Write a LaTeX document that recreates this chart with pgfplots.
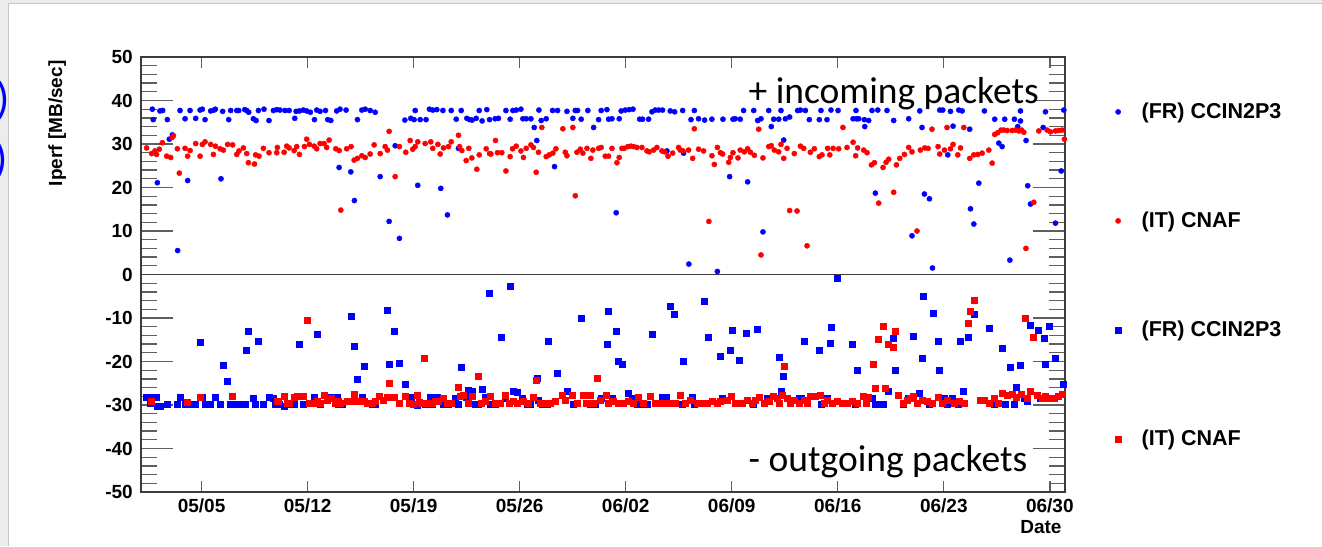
\documentclass[border=0pt]{standalone}
\usepackage{pgfplots}
\pgfplotsset{compat=1.18}
\usepackage{fontspec}
\setmainfont{Liberation Sans}
\newfontfamily\calibri{Carlito}
\definecolor{rootblue}{RGB}{0,0,255}
\definecolor{rootred}{RGB}{255,0,0}
\definecolor{framegray}{RGB}{60,60,60}
\definecolor{tickgray}{RGB}{95,95,95}
\definecolor{stripgray}{RGB}{236,236,236}
\definecolor{edgegray}{RGB}{200,200,200}

\newcommand{\lblfont}{\fontsize{19}{19}\selectfont\bfseries}
\newcommand{\legfont}{\fontsize{21.5}{21.5}\selectfont\bfseries}

\pgfplotsset{
  legimg/.style={legend image code/.code={\draw[##1] plot coordinates {(0pt,0pt)};}},
  incoming/.style={only marks, mark=*, mark size=2.6pt, mark options={draw=none, fill=#1}, color=#1, legimg},
  outgoing/.style={only marks, mark=square*, mark size=3pt, mark options={draw=none, fill=#1}, color=#1, legimg},
  rootframe/.style={
    at={(141pt,54pt)}, anchor=south west,
    scale only axis, width=924pt, height=435pt,
    xmin=0, xmax=61, ymin=-50, ymax=50,
    axis line style={framegray, line width=1.3pt},
    tick align=inside,
    every tick/.style={tickgray, line width=1.3pt},
  },
}

\begin{document}
\begin{tikzpicture}[x=1pt,y=1pt]
\path[use as bounding box, fill=white] (0,0) rectangle (1322,546);
% window edges
\fill[stripgray] (0,0) rectangle (8.5,546);
\fill[stripgray] (0,542.5) rectangle (1322,546);
\draw[edgegray, line width=1pt] (8.5,0) -- (8.5,542.5) -- (1322,542.5);
\node[text=rootblue, font=\calibri\fontsize{44}{44}\selectfont, anchor=east, inner sep=0pt] at (10,446) {)};
\node[text=rootblue, font=\calibri\fontsize{44}{44}\selectfont, anchor=east, inner sep=0pt] at (8,386) {)};

% y axis: ticks and title
\begin{axis}[rootframe,
  xtick=\empty,
  ytick={-50,-40,...,50},
  minor y tick num=4,
  major tick length=32pt, minor tick length=16pt,
  /pgf/number format/assume math mode=true,
  yticklabel style={font=\lblfont, inner sep=0pt, xshift=-8pt},
  ylabel={Iperf [MB/sec]},
  ylabel style={font=\lblfont, at={(rel axis cs:-0.0855,1)}, anchor=base east},
]
\draw[framegray, line width=1.3pt] (rel axis cs:0,0.5) -- (rel axis cs:1,0.5);
\end{axis}

% data
\begin{axis}[rootframe,
  clip=false,
  ytick=\empty,
  xtick={4,11,...,60},
  xticklabels={05/05,05/12,05/19,05/26,06/02,06/09,06/16,06/23,06/30},
  major tick length=11pt,
  xticklabel style={font=\lblfont, inner sep=0pt, yshift=-7pt},
  xlabel={Date},
  xlabel style={font=\lblfont, at={(rel axis cs:1,-0.0943)}, anchor=base east},
  legend style={draw=none, fill=none, at={(rel axis cs:1.0508,0.8984)}, anchor=north west,
    font=\legfont, row sep=91.9pt, column sep=20.5pt, nodes={inner sep=0pt}},
  legend cell align=left,
]
% incoming, FR CCIN2P3
\addplot[incoming=rootblue] coordinates {
(0.75,38.0) (0.81,35.6) (1.08,21.1) (1.25,37.6) (1.43,37.7) (1.74,35.6) (1.87,31.1) (2.07,32.1)
(2.42,5.5) (2.58,37.7) (2.91,35.8) (3.08,21.6) (3.24,37.7) (3.61,35.9) (3.90,37.8) (4.05,38.0)
(4.23,35.6) (4.60,37.6) (4.82,37.8) (4.91,38.0) (5.28,22.0) (5.39,37.5) (5.79,35.6) (5.92,37.7)
(6.32,37.7) (6.45,37.7) (6.85,37.9) (6.98,37.7) (7.11,37.3) (7.42,35.8) (7.60,35.4) (7.75,37.7)
(8.12,38.0) (8.45,35.4) (8.74,37.7) (8.96,37.9) (9.18,37.8) (9.51,37.7) (9.78,37.7) (10.15,35.9)
(10.24,37.5) (10.46,37.6) (10.72,37.8) (10.94,37.6) (11.18,37.3) (11.45,35.6) (11.60,37.8) (11.82,37.5)
(12.18,37.7) (12.33,35.6) (12.53,35.4) (12.92,37.6) (13.08,24.6) (13.14,38.0) (13.54,37.8) (13.85,23.6)
(14.09,17.0) (14.29,35.6) (14.58,37.8) (14.80,38.0) (15.13,37.7) (15.46,37.3) (15.79,22.5) (16.38,12.2)
(16.78,29.6) (17.06,8.3) (17.42,35.5) (17.81,35.9) (18.03,35.6) (18.10,37.7) (18.27,20.5) (18.43,35.6)
(18.82,35.6) (19.04,38.0) (19.26,37.8) (19.53,37.9) (19.79,19.8) (19.93,37.7) (20.23,13.7) (20.48,37.7)
(20.81,35.7) (20.96,29.0) (21.14,37.7) (21.51,35.9) (21.69,35.6) (21.86,35.5) (22.13,35.9) (22.33,37.7)
(22.52,35.3) (22.83,37.9) (23.01,35.6) (23.38,35.8) (23.60,35.9) (24.09,37.7) (24.37,35.7) (24.55,37.7)
(24.77,37.8) (25.08,38.0) (25.21,35.8) (25.43,35.8) (25.74,35.8) (25.96,33.8) (26.13,30.8) (26.27,37.8)
(26.42,35.4) (26.75,35.8) (27.17,37.7) (27.30,24.8) (27.50,37.7) (28.12,37.5) (28.51,35.9) (28.67,37.7)
(28.82,37.7) (29.06,35.7) (29.50,37.7) (29.88,33.8) (30.21,35.6) (30.38,37.7) (30.76,37.9) (30.87,35.7)
(31.09,35.8) (31.37,14.2) (31.57,35.8) (31.70,37.6) (31.97,37.8) (32.23,37.9) (32.48,38.0) (32.92,35.7)
(33.11,35.7) (33.51,35.7) (33.73,37.4) (33.95,37.8) (34.17,37.8) (34.43,37.8) (34.72,28.4) (34.94,37.6)
(35.23,37.4) (35.76,37.7) (35.82,27.9) (36.17,2.4) (36.31,35.6) (36.53,37.7) (36.81,35.8) (37.21,35.5)
(37.69,35.7) (38.05,0.7) (38.42,35.7) (38.86,22.5) (39.08,35.7) (39.23,35.8) (39.56,35.7) (39.78,37.7)
(40.05,21.3) (40.45,37.7) (40.71,35.4) (40.93,35.8) (41.06,9.8) (41.44,37.7) (41.61,34.0) (41.77,35.7)
(42.10,35.7) (42.25,37.7) (42.43,30.9) (42.54,35.8) (42.82,36.2) (43.35,37.7) (43.53,37.8) (43.86,37.7)
(44.12,35.6) (44.78,35.6) (44.89,37.7) (45.29,35.6) (45.55,37.8) (46.02,37.7) (47.01,35.8) (47.20,37.7)
(47.23,35.8) (47.38,35.8) (47.75,35.6) (47.78,34.0) (48.04,35.4) (48.26,37.7) (48.48,18.7) (48.64,37.8)
(49.25,37.7) (49.69,35.4) (50.68,35.8) (50.90,8.9) (51.41,37.6) (51.56,33.8) (51.72,18.5) (52.05,17.4)
(52.25,1.5) (52.73,37.8) (52.93,37.8) (53.26,27.5) (53.44,37.5) (53.61,34.1) (53.99,37.8) (54.21,37.6)
(54.71,33.4) (54.76,15.1) (54.98,11.6) (55.31,21.0) (55.68,37.6) (56.36,35.7) (56.63,30.2) (56.85,29.4)
(57.02,35.7) (57.36,3.3) (57.66,35.7) (57.88,34.0) (58.06,37.6) (58.06,35.3) (58.43,30.8) (58.54,20.4)
(58.72,16.2) (59.56,33.8) (59.71,37.4) (60.37,11.8) (60.75,23.8) (60.92,37.8)
};
\addlegendentry{(FR) CCIN2P3}
% incoming, IT CNAF
\addplot[incoming=rootred] coordinates {
(0.37,29.1) (0.70,27.8) (0.92,28.4) (1.03,27.6) (1.21,28.8) (1.41,30.3) (1.70,27.2) (1.96,26.9)
(2.05,31.5) (2.14,31.9) (2.40,28.9) (2.53,23.3) (2.91,29.0) (3.08,27.2) (3.24,28.5) (3.61,30.1)
(3.90,27.2) (4.05,29.9) (4.23,30.5) (4.60,29.9) (4.78,27.6) (4.91,29.5) (5.22,28.9) (5.44,28.6)
(5.72,29.9) (6.05,29.8) (6.32,27.6) (6.47,28.4) (6.76,29.1) (6.98,27.8) (7.09,25.7) (7.49,25.4)
(7.57,27.5) (7.79,27.2) (8.08,29.0) (8.45,28.0) (8.96,28.0) (9.00,29.2) (9.45,28.1) (9.62,29.5)
(9.78,29.1) (10.11,28.5) (10.28,29.4) (10.46,27.6) (10.79,29.4) (10.94,31.1) (11.12,29.9) (11.43,29.5)
(11.60,28.9) (11.82,30.1) (12.09,30.1) (12.26,29.2) (12.42,30.9) (12.86,28.9) (13.08,28.5) (13.19,14.8)
(13.58,28.9) (13.87,29.4) (14.07,26.3) (14.29,26.7) (14.58,27.3) (14.80,26.9) (15.13,27.7) (15.39,29.8)
(15.79,27.8) (16.12,29.4) (16.27,28.6) (16.38,32.9) (16.78,22.5) (17.06,29.4) (17.48,28.1) (17.77,30.8)
(17.94,28.8) (18.10,29.4) (18.27,30.5) (18.76,30.1) (19.13,30.5) (19.26,29.0) (19.60,29.9) (19.75,27.7)
(19.97,29.1) (20.30,29.4) (20.48,30.5) (20.96,32.0) (21.03,29.4) (21.18,28.5) (21.47,26.2) (21.64,29.0)
(21.84,26.8) (22.17,24.2) (22.33,27.5) (22.79,28.9) (23.01,27.8) (23.10,27.7) (23.40,30.8) (23.53,28.0)
(23.82,28.0) (24.09,23.8) (24.37,27.1) (24.53,28.9) (24.77,29.5) (25.08,28.4) (25.25,26.9) (25.43,29.0)
(25.74,29.8) (25.91,29.2) (26.09,23.5) (26.24,28.1) (26.46,33.8) (26.75,27.1) (26.95,27.5) (27.19,27.9)
(27.39,28.9) (27.85,33.5) (28.01,28.1) (28.12,27.3) (28.51,33.8) (28.67,18.1) (28.78,28.1) (29.00,28.8)
(29.17,27.9) (29.44,29.0) (29.70,26.7) (29.83,28.6) (30.21,29.0) (30.38,29.2) (30.65,27.2) (30.87,27.2)
(31.09,29.0) (31.42,25.7) (31.57,26.9) (31.75,29.0) (31.90,29.0) (32.14,29.4) (32.34,29.5) (32.52,29.4)
(32.74,29.2) (33.07,29.2) (33.40,28.4) (33.55,28.2) (33.84,28.6) (34.06,29.2) (34.39,28.4) (34.57,28.2)
(34.79,27.2) (35.10,27.9) (35.49,29.2) (35.60,28.6) (35.78,28.4) (36.15,28.6) (36.42,26.7) (36.53,33.5)
(36.81,28.8) (37.14,28.4) (37.49,12.2) (37.69,27.3) (37.85,25.3) (38.05,29.2) (38.25,28.0) (38.40,27.7)
(38.80,25.8) (38.91,26.9) (39.08,28.0) (39.41,26.8) (39.56,28.6) (39.83,28.2) (40.05,28.9) (40.23,28.1)
(40.49,27.4) (40.78,33.4) (40.93,4.5) (41.06,26.8) (41.44,29.4) (41.61,29.6) (41.81,28.6) (42.10,28.2)
(42.25,29.9) (42.43,26.7) (42.65,29.0) (42.82,14.7) (43.13,27.8) (43.31,14.6) (43.53,29.5) (43.75,29.0)
(43.97,6.6) (44.19,28.1) (44.45,28.9) (44.78,27.1) (44.96,27.5) (45.33,29.0) (45.47,27.5) (45.69,29.0)
(46.06,28.9) (46.34,33.8) (46.61,29.2) (47.01,30.4) (47.18,27.3) (47.31,29.1) (47.71,28.6) (47.93,28.0)
(48.22,25.2) (48.42,25.7) (48.70,16.4) (48.99,24.6) (49.19,25.8) (49.36,26.5) (49.69,18.9) (49.87,25.2)
(50.09,26.7) (50.40,27.6) (50.68,29.2) (50.90,28.2) (51.23,10.0) (51.45,28.6) (51.74,29.1) (51.96,29.0)
(52.22,33.4) (52.62,29.4) (52.73,27.7) (53.04,28.6) (53.21,33.8) (53.44,28.9) (53.61,29.9) (53.92,27.5)
(54.10,29.1) (54.32,33.8) (54.71,26.7) (54.98,27.5) (55.24,27.6) (55.53,27.9) (55.97,28.6) (56.19,25.6)
(56.36,32.2) (56.56,32.6) (56.78,33.2) (56.96,33.2) (57.18,33.1) (57.51,33.1) (57.73,33.2) (57.95,33.0)
(58.13,33.2) (58.28,32.7) (58.42,6.0) (58.94,16.6) (59.27,33.0) (59.82,33.2) (60.04,32.8) (60.37,33.0)
(60.59,33.1) (60.81,33.2) (60.96,31.1)
};
\addlegendentry{(IT) CNAF}
% outgoing, FR CCIN2P3
\addplot[outgoing=rootblue] coordinates {
(0.33,-28.2) (0.59,-29.5) (0.81,-28.2) (0.99,-28.1) (1.08,-30.2) (1.25,-30.2) (1.70,-29.9) (2.40,-29.8)
(2.58,-28.1) (2.91,-29.9) (3.24,-29.9) (3.57,-29.9) (3.90,-15.6) (4.05,-28.3) (4.23,-29.8) (4.60,-29.8)
(4.89,-28.3) (5.22,-29.9) (5.44,-20.8) (5.72,-24.5) (5.92,-29.9) (6.16,-29.9) (6.47,-29.9) (6.87,-29.9)
(6.94,-17.4) (7.05,-13.1) (7.42,-28.4) (7.57,-29.9) (7.75,-15.4) (8.08,-29.9) (8.45,-28.1) (8.70,-28.4)
(8.85,-29.9) (9.14,-29.9) (9.45,-30.2) (9.78,-29.9) (10.11,-29.9) (10.44,-16.0) (10.72,-29.9) (11.43,-28.1)
(11.60,-13.8) (11.82,-29.9) (12.48,-28.2) (12.92,-28.1) (13.03,-29.9) (13.25,-29.9) (13.85,-9.5) (14.07,-16.4)
(14.24,-24.0) (14.58,-28.2) (14.75,-21.0) (15.28,-29.9) (15.46,-29.9) (16.23,-8.3) (16.40,-20.6) (16.73,-13.0)
(17.04,-20.3) (17.44,-25.2) (17.83,-28.2) (17.94,-29.9) (18.25,-30.1) (18.76,-29.9) (19.09,-28.2) (19.24,-29.9)
(19.53,-28.2) (19.97,-29.9) (20.30,-29.9) (20.74,-28.5) (20.96,-29.9) (21.11,-21.4) (21.47,-28.1) (21.62,-26.7)
(21.84,-26.9) (22.06,-29.9) (22.28,-29.9) (22.50,-26.4) (22.72,-28.1) (23.01,-4.2) (23.05,-29.9) (23.38,-29.9)
(23.76,-14.3) (24.04,-28.5) (24.37,-2.6) (24.55,-26.9) (24.81,-27.1) (25.14,-28.5) (25.47,-29.9) (25.69,-29.9)
(26.13,-23.9) (26.24,-28.9) (26.46,-29.9) (26.79,-29.9) (26.91,-15.3) (27.50,-22.7) (28.16,-26.9) (28.56,-29.9)
(29.04,-10.1) (29.66,-29.9) (29.99,-29.9) (30.38,-28.5) (30.76,-16.0) (30.87,-8.4) (31.09,-28.5) (31.37,-13.1)
(31.53,-20.0) (31.75,-20.6) (32.19,-27.2) (32.41,-28.5) (32.74,-29.9) (33.07,-29.9) (33.40,-29.9) (33.73,-13.8)
(34.39,-28.2) (34.68,-28.2) (34.94,-7.4) (35.20,-9.1) (35.71,-29.9) (35.82,-19.9) (36.37,-28.2) (36.53,-29.9)
(37.19,-6.1) (37.47,-14.5) (38.25,-18.7) (38.36,-28.5) (38.91,-17.4) (39.06,-12.8) (39.46,-19.7) (39.96,-13.5)
(40.40,-29.9) (40.71,-12.5) (41.37,-28.5) (42.10,-19.0) (42.25,-26.8) (42.38,-23.3) (43.42,-28.5) (43.57,-28.5)
(43.75,-15.4) (44.78,-17.4) (44.89,-29.9) (45.33,-28.5) (45.47,-15.7) (45.58,-12.1) (45.95,-0.9) (46.98,-16.0)
(47.16,-29.9) (47.27,-22.1) (47.93,-28.5) (48.26,-28.5) (48.48,-29.9) (48.77,-29.9) (48.99,-29.9) (49.36,-26.9)
(49.65,-14.7) (49.80,-22.1) (50.31,-29.9) (50.68,-28.5) (51.01,-14.1) (51.39,-27.2) (51.56,-19.3) (51.67,-5.1)
(52.01,-29.9) (52.29,-8.8) (52.60,-15.4) (52.71,-22.1) (53.04,-28.5) (53.21,-29.9) (53.55,-28.5) (53.92,-29.9)
(54.10,-15.4) (54.27,-26.9) (54.58,-14.4) (54.98,-9.2) (55.97,-12.4) (56.34,-29.9) (56.85,-17.0) (57.02,-29.9)
(57.36,-21.2) (57.66,-29.9) (57.79,-25.8) (58.01,-20.8) (58.28,-28.5) (58.50,-29.2) (58.72,-11.6) (59.22,-12.8)
(59.38,-28.5) (59.60,-14.7) (59.71,-20.6) (59.93,-12.0) (60.15,-28.5) (60.37,-19.3) (60.87,-25.2)
};
\addlegendentry{(FR) CCIN2P3}
% outgoing, IT CNAF
\addplot[outgoing=rootred] coordinates {
(0.70,-29.2) (3.06,-29.4) (3.90,-28.2) (6.05,-27.9) (8.96,-29.2) (9.07,-29.2) (9.45,-27.9) (9.62,-29.5)
(9.80,-29.5) (10.11,-28.1) (10.28,-27.9) (10.50,-27.9) (10.72,-27.9) (10.94,-10.6) (11.12,-29.5) (11.43,-29.5)
(11.60,-29.2) (11.82,-29.5) (12.11,-27.7) (12.31,-28.8) (12.53,-28.5) (12.81,-29.6) (13.03,-29.2) (13.14,-29.5)
(13.58,-29.1) (13.87,-29.2) (14.07,-27.5) (14.29,-29.2) (14.51,-29.1) (14.73,-29.2) (14.91,-29.5) (15.13,-29.5)
(15.28,-29.6) (15.46,-29.2) (15.74,-27.9) (16.01,-29.0) (16.23,-28.1) (16.40,-25.0) (16.71,-28.2) (17.06,-29.5)
(17.44,-27.9) (17.72,-29.5) (17.94,-29.8) (18.21,-27.7) (18.34,-29.4) (18.54,-29.5) (18.71,-19.3) (19.04,-29.5)
(19.20,-29.5) (19.42,-29.1) (19.64,-29.2) (19.97,-28.5) (20.23,-29.5) (20.48,-29.6) (20.96,-25.9) (21.07,-27.9)
(21.29,-27.7) (21.62,-29.5) (21.84,-27.9) (22.28,-23.3) (22.44,-29.5) (22.72,-29.2) (23.05,-27.9) (23.38,-29.5)
(23.71,-29.5) (24.04,-27.7) (24.33,-29.5) (24.59,-29.2) (24.86,-29.5) (25.21,-29.2) (25.58,-29.5) (25.91,-28.1)
(26.07,-24.3) (26.35,-29.5) (26.68,-29.5) (27.01,-29.5) (27.35,-29.2) (27.79,-27.7) (28.01,-29.0) (28.49,-27.7)
(28.78,-29.5) (29.17,-27.7) (29.39,-29.5) (29.66,-27.7) (29.88,-29.6) (30.14,-23.9) (30.32,-29.0) (30.69,-27.7)
(30.87,-29.5) (31.20,-29.2) (31.53,-29.5) (31.86,-29.5) (32.19,-29.2) (32.52,-29.5) (32.85,-28.2) (33.18,-29.5)
(33.62,-27.9) (33.95,-29.5) (34.28,-29.6) (34.72,-29.5) (35.06,-29.5) (35.28,-29.5) (35.60,-27.7) (35.93,-29.5)
(36.26,-29.0) (36.70,-29.5) (37.14,-29.5) (37.36,-29.5) (37.69,-29.2) (38.02,-29.5) (38.25,-29.2) (38.68,-29.0)
(38.95,-27.9) (39.23,-29.5) (39.67,-29.5) (40.00,-29.0) (40.34,-29.5) (40.56,-29.0) (40.84,-28.1) (41.15,-29.5)
(41.44,-29.2) (41.72,-27.9) (41.99,-28.5) (42.16,-29.6) (42.32,-27.7) (42.43,-21.0) (42.65,-28.5) (42.87,-29.5)
(43.13,-29.0) (43.42,-29.5) (43.75,-29.0) (43.97,-29.5) (44.19,-27.9) (44.52,-27.9) (44.85,-27.7) (45.07,-29.5)
(45.33,-29.0) (45.62,-29.5) (45.95,-29.2) (46.28,-29.5) (46.61,-29.5) (46.94,-29.2) (47.27,-29.5) (47.67,-27.9)
(47.89,-29.5) (48.04,-28.1) (48.33,-20.7) (48.48,-26.2) (48.64,-14.9) (48.99,-11.8) (49.14,-26.2) (49.36,-16.0)
(49.69,-16.7) (49.82,-13.1) (50.02,-27.7) (50.31,-29.5) (50.57,-29.0) (50.79,-28.5) (51.01,-27.9) (51.23,-29.5)
(51.56,-29.0) (51.89,-29.2) (52.22,-29.5) (52.60,-28.1) (52.89,-29.5) (53.21,-29.0) (53.66,-29.5) (53.99,-29.2)
(54.32,-29.5) (54.58,-11.2) (54.76,-8.5) (54.98,-6.0) (55.37,-29.0) (55.64,-29.0) (55.97,-29.5) (56.30,-28.5)
(56.56,-29.5) (56.85,-27.3) (57.18,-27.7) (57.51,-27.5) (57.79,-28.1) (58.08,-27.5) (58.35,-10.1) (58.50,-28.5)
(58.72,-26.9) (58.90,-14.4) (59.18,-27.7) (59.49,-28.5) (59.71,-27.9) (59.93,-28.5) (60.26,-28.5) (60.52,-27.9)
(60.81,-27.5)
};
\addlegendentry{(IT) CNAF}
\node[anchor=base west, inner sep=0pt, font=\calibri\fontsize{37.5}{37.5}\selectfont] at (axis cs:40.1,39.4) {+ incoming packets};
\node[anchor=base west, inner sep=0pt, font=\calibri\fontsize{37.5}{37.5}\selectfont] at (axis cs:40.1,-45.3) {- outgoing packets};
\end{axis}
\end{tikzpicture}
\end{document}
